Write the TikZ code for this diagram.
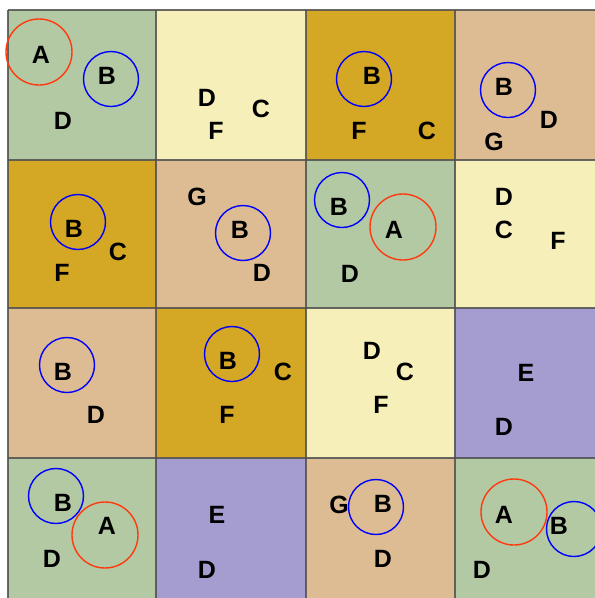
\documentclass[tikz,border=0pt]{standalone}
\usepackage{fontspec}
\setmainfont{Liberation Sans}
\usetikzlibrary{positioning}

\definecolor{cgreen}{RGB}{178,201,164}
\definecolor{cyellow}{RGB}{247,239,185}
\definecolor{cgold}{RGB}{212,168,36}
\definecolor{ctan}{RGB}{222,188,147}
\definecolor{cpurple}{RGB}{165,156,208}
\definecolor{gridgray}{RGB}{80,80,80}
\definecolor{ringred}{RGB}{255,58,16}

\begin{document}
\begin{tikzpicture}[x=1pt, y=-1pt, line join=round,
  lbl/.style={font=\fontsize{25}{30}\selectfont\bfseries, inner sep=0pt},
  bluering/.style={draw=blue, line width=1.4pt},
  redring/.style={draw=ringred, line width=1.4pt},
  gridline/.style={draw=gridgray, line width=2.4pt, opacity=0.85}]
\useasboundingbox (0,0) rectangle (595,598);
\clip (0,0) rectangle (595,598);
% cells, row by row
\fill[cgreen]  (8,10) rectangle (156,160);
\fill[cyellow] (156,10) rectangle (306,160);
\fill[cgold]   (306,10) rectangle (455,160);
\fill[ctan]    (455,10) rectangle (604,160);
\fill[cgold]   (8,160) rectangle (156,308);
\fill[ctan]    (156,160) rectangle (306,308);
\fill[cgreen]  (306,160) rectangle (455,308);
\fill[cyellow] (455,160) rectangle (604,308);
\fill[ctan]    (8,308) rectangle (156,458);
\fill[cgold]   (156,308) rectangle (306,458);
\fill[cyellow] (306,308) rectangle (455,458);
\fill[cpurple] (455,308) rectangle (604,458);
\fill[cgreen]  (8,458) rectangle (156,608);
\fill[cpurple] (156,458) rectangle (306,608);
\fill[ctan]    (306,458) rectangle (455,608);
\fill[cgreen]  (455,458) rectangle (604,608);
% grid
\draw[gridline] (8,10) -- (604,10);
\draw[gridline] (8,160) -- (604,160);
\draw[gridline] (8,308) -- (604,308);
\draw[gridline] (8,458) -- (604,458);
\draw[gridline] (8,10) -- (8,608);
\draw[gridline] (156,10) -- (156,608);
\draw[gridline] (306,10) -- (306,608);
\draw[gridline] (455,10) -- (455,608);
% rings
\draw[redring]  (39,52) circle[radius=33pt];
\draw[bluering] (111,79) circle[radius=27.5pt];
\draw[bluering] (364,79) circle[radius=27.5pt];
\draw[bluering] (508,90) circle[radius=27.5pt];
\draw[bluering] (78,222) circle[radius=27.5pt];
\draw[bluering] (243,233) circle[radius=27.5pt];
\draw[bluering] (342,200) circle[radius=27.5pt];
\draw[redring]  (403,227) circle[radius=33pt];
\draw[bluering] (67,365) circle[radius=27.5pt];
\draw[bluering] (232,354) circle[radius=27.5pt];
\draw[bluering] (56,496) circle[radius=27.5pt];
\draw[redring]  (105,535) circle[radius=33pt];
\draw[bluering] (376,507) circle[radius=27.5pt];
\draw[redring]  (514,512) circle[radius=33pt];
\draw[bluering] (574,529) circle[radius=27.5pt];
% row 1
\node[lbl] (a11) at (41,55) {A};
\node[lbl] (b11) at (107,76) {B};
\node[lbl] (d11) at (63,121) {D};
\node[lbl] (d12) at (207,98) {D};
\node[lbl] (c12) at (261,109) {C};
\node[lbl] (f12) at (216,131) {F};
\node[lbl] (b13) at (372,76) {B};
\node[lbl] (f13) at (359,131) {F};
\node[lbl] (c13) at (427,131) {C};
\node[lbl] (b14) at (504,87) {B};
\node[lbl] (d14) at (549,120) {D};
\node[lbl] (g14) at (494,142) {G};
% row 2
\node[lbl] (b21) at (74,229) {B};
\node[lbl] (c21) at (118,252) {C};
\node[lbl] (f21) at (62,273) {F};
\node[lbl] (g22) at (197,197) {G};
\node[lbl] (b22) at (240,230) {B};
\node[lbl] (d22) at (262,273) {D};
\node[lbl] (b23) at (339,207) {B};
\node[lbl] (a23) at (394,230) {A};
\node[lbl] (d23) at (350,274) {D};
\node[lbl] (d24) at (504,197) {D};
\node[lbl] (c24) at (504,230) {C};
\node[lbl] (f24) at (558,241) {F};
% row 3
\node[lbl] (b31) at (63,372) {B};
\node[lbl] (d31) at (96,415) {D};
\node[lbl] (b32) at (228,361) {B};
\node[lbl] (c32) at (283,372) {C};
\node[lbl] (f32) at (227,415) {F};
\node[lbl] (d33) at (372,351) {D};
\node[lbl] (c33) at (405,372) {C};
\node[lbl] (f33) at (381,405) {F};
\node[lbl] (e34) at (526,373) {E};
\node[lbl] (d34) at (504,427) {D};
% row 4
\node[lbl] (b41) at (63,503) {B};
\node[lbl] (a41) at (107,526) {A};
\node[lbl] (d41) at (52,559) {D};
\node[lbl] (e42) at (217,515) {E};
\node[lbl] (d42) at (207,570) {D};
\node[lbl] (g43) at (339,505) {G};
\node[lbl] (b43) at (383,504) {B};
\node[lbl] (d43) at (383,559) {D};
\node[lbl] (a44) at (504,515) {A};
\node[lbl] (b44) at (559,526) {B};
\node[lbl] (d44) at (482,570) {D};
\end{tikzpicture}
\end{document}
